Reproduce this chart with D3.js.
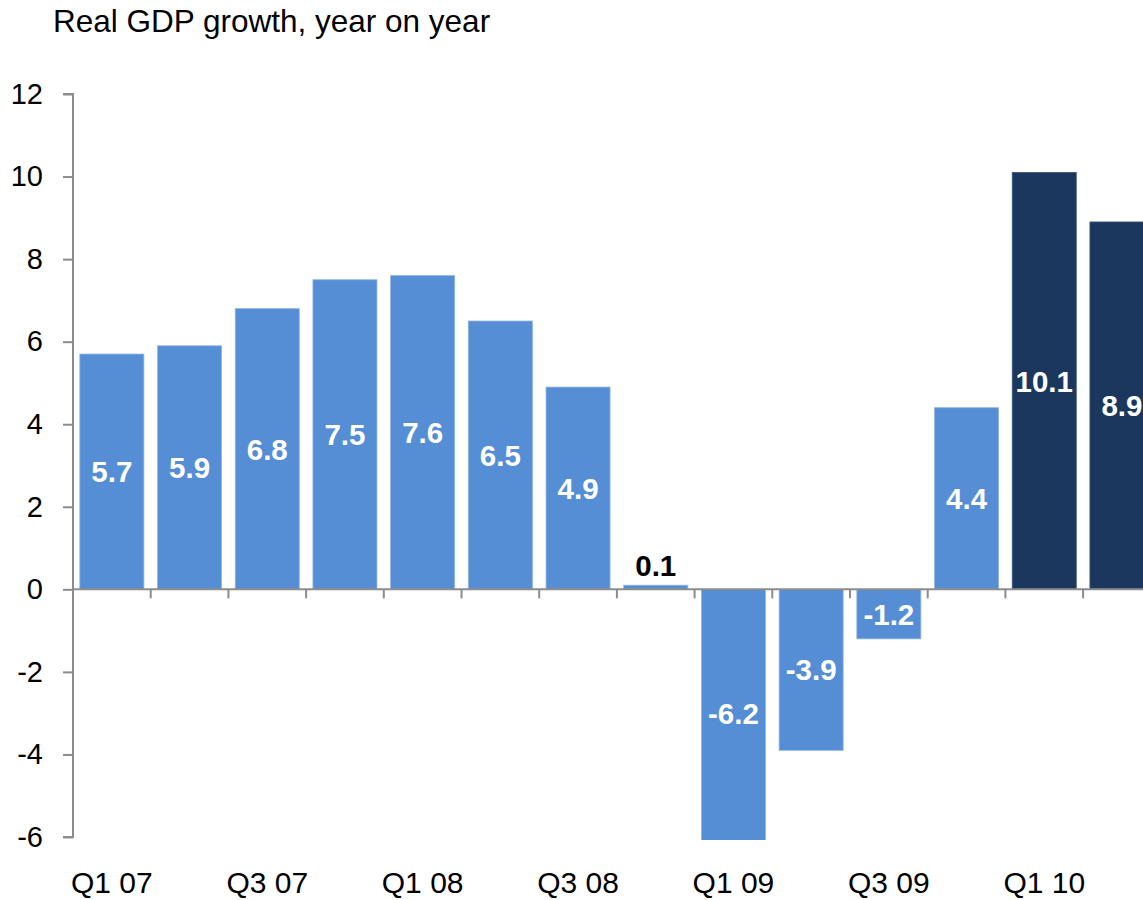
<!DOCTYPE html>
<html>
<head>
<meta charset="utf-8">
<script src="https://cdn.jsdelivr.net/npm/d3@7"></script>
<style>
  html, body { margin: 0; padding: 0; background: #fff; overflow: hidden; }
  svg { display: block; font-family: "Liberation Sans", Arial, sans-serif; }
</style>
</head>
<body>
<svg id="chart" width="1143" height="900"></svg>
<script>
// Quarterly real GDP growth, year on year (%)
const quarters = ["Q1 07","Q2 07","Q3 07","Q4 07","Q1 08","Q2 08","Q3 08","Q4 08",
                  "Q1 09","Q2 09","Q3 09","Q4 09","Q1 10","Q2 10"];
const growth = [5.7, 5.9, 6.8, 7.5, 7.6, 6.5, 4.9, 0.1, -6.2, -3.9, -1.2, 4.4, 10.1, 8.9];
// Latest quarters highlighted in the dark colour
const highlighted = ["Q1 10", "Q2 10"];
const yTicks = [-6, -4, -2, 0, 2, 4, 6, 8, 10, 12];
const xTickLabels = ["Q1 07","Q3 07","Q1 08","Q3 08","Q1 09","Q3 09","Q1 10"];
const title = "Real GDP growth, year on year";

const data = quarters.map((q, i) => ({ q, v: growth[i] }));

const svg = d3.select("#chart");
const plotLeft = 73, bandStep = 77.7;
const plotTop = 94, plotBottom = 837;

const x = d3.scaleBand()
  .domain(quarters)
  .range([plotLeft, plotLeft + bandStep * quarters.length])
  .paddingInner(0.176)
  .paddingOuter(0.088);

const y = d3.scaleLinear().domain([-6, 12]).range([plotBottom, plotTop]);

const axisColor = "#8c8c8c";
const light = "#558ed5", dark = "#1b375e";

// Title
svg.append("text")
  .attr("x", 53).attr("y", 32)
  .attr("font-size", 31.5).attr("fill", "#000")
  .text(title);

// Plot clip so bars stay within the axis range
svg.append("defs").append("clipPath").attr("id", "plot-clip")
  .append("rect")
  .attr("x", plotLeft).attr("y", y(12) - 2)
  .attr("width", 2000).attr("height", y(-6) - y(12) + 5);

// Bars
svg.append("g").attr("clip-path", "url(#plot-clip)")
  .selectAll("rect").data(data).join("rect")
  .attr("x", d => x(d.q))
  .attr("width", x.bandwidth())
  .attr("y", d => y(Math.max(0, d.v)))
  .attr("height", d => Math.abs(y(d.v) - y(0)))
  .attr("fill", d => highlighted.includes(d.q) ? dark : light)
  .attr("stroke", d => highlighted.includes(d.q) ? "#3a5478" : "#8fb3e3")
  .attr("stroke-width", 0.8);

// Y axis
const yAxis = d3.axisLeft(y).tickValues(yTicks).tickSize(10).tickPadding(20)
  .tickFormat(d => String(d));
const yg = svg.append("g").attr("transform", `translate(${plotLeft},0)`).call(yAxis);
yg.select(".domain").attr("stroke", axisColor).attr("stroke-width", 2)
  .attr("d", `M-10,${y(12)}H0V${y(-6)}H-10`);
yg.selectAll(".tick line").attr("stroke", axisColor).attr("stroke-width", 2);
yg.selectAll(".tick text").attr("font-size", 29).attr("fill", "#000")
  .attr("font-family", "Liberation Sans, Arial, sans-serif");

// Zero baseline with ticks between categories
const zg = svg.append("g");
zg.append("line")
  .attr("x1", plotLeft).attr("x2", 1143)
  .attr("y1", y(0)).attr("y2", y(0))
  .attr("stroke", axisColor).attr("stroke-width", 2);
const boundaries = quarters.slice(1).map(q => x(q) - x.step() * x.paddingInner() / 2);
zg.selectAll("line.tk").data(boundaries).join("line")
  .attr("class", "tk")
  .attr("x1", d => d).attr("x2", d => d)
  .attr("y1", y(0)).attr("y2", y(0) + 9)
  .attr("stroke", axisColor).attr("stroke-width", 2);

// Category labels along the bottom
svg.append("g").selectAll("text").data(xTickLabels).join("text")
  .attr("x", d => x(d) + x.bandwidth() / 2)
  .attr("y", 893)
  .attr("text-anchor", "middle")
  .attr("font-size", 30).attr("fill", "#000")
  .text(d => d);

// Value labels: centred in the bar, small values sit above it
svg.append("g").selectAll("text").data(data).join("text")
  .attr("x", d => x(d.q) + x.bandwidth() / 2)
  .attr("y", d => {
    if (Math.abs(d.v) < 1) return y(d.v) - 20;
    return d.v > 0 ? (y(d.v) + y(0)) / 2 : (y(0) + Math.min(y(d.v), y(-6))) / 2;
  })
  .attr("dy", "0.36em")
  .attr("text-anchor", "middle")
  .attr("font-size", 29.5).attr("font-weight", "bold")
  .attr("fill", d => Math.abs(d.v) < 1 ? "#000" : "#fff")
  .text(d => d.v.toFixed(1));
</script>
</body>
</html>
